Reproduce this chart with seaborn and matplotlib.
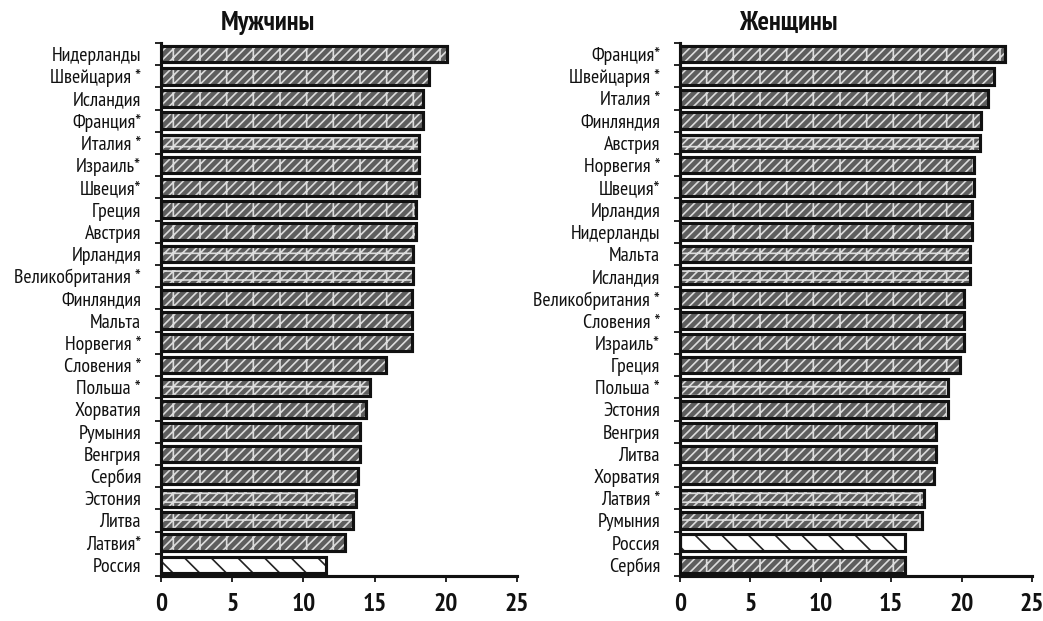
import numpy as np
import pandas as pd
import matplotlib
matplotlib.use("Agg")
import matplotlib.pyplot as plt
import seaborn as sns

# ---------------- data ----------------
men_countries = ["Нидерланды", "Швейцария *", "Исландия", "Франция*", "Италия *",
                 "Израиль*", "Швеция*", "Греция", "Австрия", "Ирландия",
                 "Великобритания *", "Финляндия", "Мальта", "Норвегия *", "Словения *",
                 "Польша *", "Хорватия", "Румыния", "Венгрия", "Сербия",
                 "Эстония", "Литва", "Латвия*", "Россия"]
men_values = [20.1, 18.8, 18.4, 18.4, 18.1,
              18.1, 18.1, 17.9, 17.9, 17.7,
              17.7, 17.6, 17.6, 17.6, 15.8,
              14.7, 14.4, 14.0, 14.0, 13.8,
              13.7, 13.5, 12.9, 11.6]
men_alt_pattern = ["Италия *", "Ирландия", "Великобритания *", "Польша *", "Эстония", "Литва"]

women_countries = ["Франция*", "Швейцария *", "Италия *", "Финляндия", "Австрия",
                   "Норвегия *", "Швеция*", "Ирландия", "Нидерланды", "Мальта",
                   "Исландия", "Великобритания *", "Словения *", "Израиль*", "Греция",
                   "Польша *", "Эстония", "Венгрия", "Литва", "Хорватия",
                   "Латвия *", "Румыния", "Россия", "Сербия"]
women_values = [23.1, 22.3, 21.9, 21.4, 21.3,
                20.9, 20.9, 20.75, 20.75, 20.6,
                20.6, 20.2, 20.2, 20.2, 19.9,
                19.05, 19.05, 18.2, 18.2, 18.05,
                17.3, 17.2, 16.0, 16.0]
women_alt_pattern = ["Австрия", "Мальта", "Исландия", "Польша *", "Латвия *", "Румыния"]

x_ticks = [0, 5, 10, 15, 20, 25]
titles = ["Мужчины", "Женщины"]
highlight = "Россия"

# ---------------- style ----------------
sns.set_theme(style="white")
FONT = ["PT Sans Narrow", "DejaVu Sans"]
plt.rcParams["font.family"] = FONT
plt.rcParams["hatch.linewidth"] = 0.75

DPI = 160
fig = plt.figure(figsize=(1043 / DPI, 621 / DPI), dpi=DPI)
ax_m = fig.add_axes([0.1544, 0.0725, 0.3413, 0.8583])
ax_w = fig.add_axes([0.6520, 0.0725, 0.3375, 0.8583])


def draw(ax, countries, values, alt):
    df = pd.DataFrame({"country": countries, "value": values})
    sns.barplot(data=df, x="value", y="country", ax=ax, color="#5e5e5e",
                width=0.75, linewidth=0, saturation=1, errorbar=None)
    for patch, c in zip(ax.patches, countries):
        if c == highlight:
            patch.set_facecolor("white")
            patch.set_edgecolor("#222222")
            patch.set_hatch(r"\\")
        elif c in alt:
            patch.set_edgecolor("#dcdcdc")
            patch.set_hatch("//////|---")
        else:
            patch.set_edgecolor("#dcdcdc")
            patch.set_hatch("//////|")
        patch.set_linewidth(0)
    sns.barplot(data=df, x="value", y="country", ax=ax, color="#111111",
                width=0.75, fill=False, linewidth=1.4, errorbar=None)
    n = len(countries)
    ax.set_xlim(0, 25)
    ax.set_ylim(n - 0.5, -0.5)
    ax.set_xticks(x_ticks)
    ax.set_xticklabels([str(t) for t in x_ticks], fontsize=11.5, fontweight="bold")
    ax.set_yticks(range(n))
    ax.set_yticklabels(countries, fontsize=9)
    ax.set_yticks(np.arange(-0.5, n, 1.0), minor=True)
    ax.tick_params(axis="y", which="major", length=0, pad=9, colors="#111111")
    ax.tick_params(axis="y", which="minor", left=True, length=2.7, width=0.8,
                   direction="out", color="#111111")
    ax.tick_params(axis="x", which="major", bottom=True, length=2.7, width=0.8,
                   direction="out", pad=5, colors="#111111")
    for s in ["top", "right"]:
        ax.spines[s].set_visible(False)
    for s in ["left", "bottom"]:
        ax.spines[s].set_color("#111111")
        ax.spines[s].set_linewidth(1.4)
    ax.set_xlabel("")
    ax.set_ylabel("")
    ax.grid(False)


draw(ax_m, men_countries, men_values, men_alt_pattern)
draw(ax_w, women_countries, women_values, women_alt_pattern)

fig.text(268 / 1043, 1 - 23 / 621, titles[0], ha="center", va="center",
         fontsize=12, fontweight="bold", color="#111111")
fig.text(788 / 1043, 1 - 23 / 621, titles[1], ha="center", va="center",
         fontsize=12, fontweight="bold", color="#111111")

fig.savefig("out.png", dpi=DPI, facecolor="white")
